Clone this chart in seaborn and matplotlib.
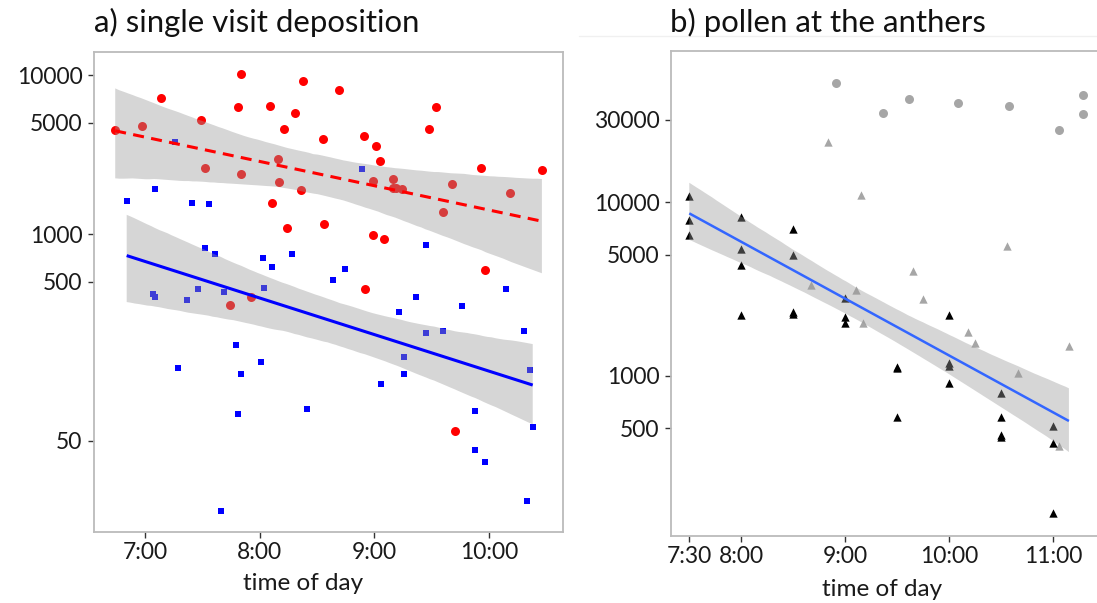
import numpy as np
import matplotlib
matplotlib.use("Agg")
import matplotlib.pyplot as plt
import seaborn as sns
from matplotlib.lines import Line2D

# ---------------- data ----------------
# a) single visit deposition (time in decimal hours, pollen count)
red_time = [6.74, 6.97, 7.14, 7.49, 7.52, 7.84, 7.81, 7.84, 8.09, 8.38, 8.31, 8.21,
            8.16, 8.17, 8.11, 8.36, 8.69, 8.55, 8.24, 8.56, 8.91, 9.01, 9.05, 8.99,
            9.16, 9.16, 9.19, 9.24, 8.99, 9.08, 9.54, 9.48, 9.68, 9.60, 9.93, 10.18,
            10.46, 9.96, 8.92, 7.74, 7.92, 9.70]
red_count = [4510, 4780, 7200, 5210, 2590, 10140, 6270, 2385, 6380, 9160, 5790, 4570,
             2950, 2125, 1570, 1890, 8050, 3950, 1090, 1150, 4130, 3570, 2890, 2155,
             2230, 1955, 1960, 1930, 980, 925, 6320, 4590, 2060, 1370, 2610, 1820,
             2530, 596, 451, 357, 403, 58]

blue_time = [7.26, 8.89, 7.09, 6.84, 7.41, 7.56, 9.45, 7.52, 7.61, 8.03, 8.28, 8.11,
             8.74, 8.64, 7.07, 7.09, 7.46, 7.37, 7.69, 8.04, 9.36, 9.21, 9.76, 10.15,
             9.45, 9.60, 10.30, 7.79, 9.26, 7.29, 8.01, 7.84, 9.26, 9.06, 10.36, 8.41,
             7.81, 9.88, 10.38, 9.88, 9.96, 10.33, 7.66]
blue_count = [3800, 2550, 1930, 1605, 1575, 1545, 853, 813, 752, 710, 752, 622,
              603, 512, 420, 402, 451, 385, 434, 459, 400, 322, 354, 453,
              239, 244, 244, 200, 168, 143, 156, 132, 132, 114, 140, 79,
              73.5, 77, 61, 44, 37, 21, 18]

# b) pollen at the anthers
black_tri_time = [7.5, 7.5, 7.5, 8.0, 8.0, 8.0, 8.0, 8.5, 8.5, 8.5, 8.5, 9.0, 9.0, 9.0,
                  9.5, 9.5, 9.5, 10.0, 10.0, 10.0, 10.0, 10.5, 10.5, 10.5, 10.5,
                  11.0, 11.0, 11.0]
black_tri_count = [10860, 7910, 6530, 8260, 5380, 4350, 2240, 7020, 4970, 2340, 2270,
                   2820, 2190, 2030, 1130, 1110, 576, 2240, 1180, 1140, 916,
                   798, 576, 459, 445, 513, 411, 161]

gray_tri_time = [8.83, 9.15, 8.67, 9.10, 9.65, 9.75, 9.17, 10.55, 10.18, 10.25, 10.66,
                 11.15, 11.05]
gray_tri_count = [22180, 11020, 3335, 3130, 4035, 2770, 2020, 5600, 1800, 1540, 1040,
                  1483, 394]

gray_circ_time = [8.91, 9.36, 9.61, 10.08, 10.57, 11.05, 11.29, 11.29]
gray_circ_count = [48750, 32700, 39450, 37250, 36060, 26000, 41600, 32200]

left_yticks = [50, 500, 1000, 5000, 10000]
right_yticks = [500, 1000, 5000, 10000, 30000]
left_xticks = [7, 8, 9, 10]
left_xlabels = ["7:00", "8:00", "9:00", "10:00"]
right_xticks = [7.5, 8, 9, 10, 11]
right_xlabels = ["7:30", "8:00", "9:00", "10:00", "11:00"]

# ---------------- style ----------------
sns.set_style("white")
plt.rcParams["font.family"] = ["Lato", "DejaVu Sans"]

fig = plt.figure(figsize=(10.97, 6.03), dpi=100)
W, H = 1097, 603
axL = fig.add_axes([94 / W, 1 - 532 / H, (563 - 94) / W, (532 - 52) / H])
axR = fig.add_axes([671 / W, 1 - 536 / H, (1097 - 671) / W, (536 - 51) / H])


def fit(ax, x, y, color, lw, dashes=None):
    n0 = len(ax.collections)
    kws = dict(lw=lw, zorder=4, solid_capstyle="butt")
    if dashes is not None:
        kws["dashes"] = dashes
    sns.regplot(x=np.asarray(x, float), y=np.log10(np.asarray(y, float)), ax=ax,
                scatter=False, ci=95, n_boot=2000, seed=7, color=color,
                line_kws=kws)
    for c in ax.collections[n0:]:
        c.set_facecolor("#999999")
        c.set_alpha(0.4)
        c.set_edgecolor("none")
        c.set_zorder(3)


def pts(ax, x, y, color, marker, s):
    sns.scatterplot(x=np.asarray(x, float), y=np.log10(np.asarray(y, float)), ax=ax,
                    color=color, marker=marker, s=s, linewidth=0, zorder=2,
                    legend=False)


# left panel
pts(axL, red_time, red_count, "#FF0000", "o", 42)
pts(axL, blue_time, blue_count, "#0000FF", "s", 20)
fit(axL, red_time, red_count, "#FF0000", 2.2, dashes=(3.6, 2.4))
fit(axL, blue_time, blue_count, "#0000FF", 2.2)

# right panel
pts(axR, gray_circ_time, gray_circ_count, "#A6A6A6", "o", 42)
pts(axR, gray_tri_time, gray_tri_count, "#A6A6A6", "^", 36)
pts(axR, black_tri_time, black_tri_count, "#000000", "^", 36)
fit(axR, black_tri_time + gray_tri_time, black_tri_count + gray_tri_count,
    "#3366FF", 1.8)

# axes formatting
axL.set_xlim(6.555, 10.644)
axL.set_ylim(1.126, 4.145)
axL.set_xticks(left_xticks)
axL.set_xticklabels(left_xlabels)
axL.set_yticks(np.log10(left_yticks))
axL.set_yticklabels([str(v) for v in left_yticks])

axR.set_xlim(7.324, 11.42)
axR.set_ylim(2.077, 4.873)
axR.set_xticks(right_xticks)
axR.set_xticklabels(right_xlabels)
axR.set_yticks(np.log10(right_yticks))
axR.set_yticklabels([str(v) for v in right_yticks])

for ax in (axL, axR):
    ax.set_facecolor("white")
    for sp in ax.spines.values():
        sp.set_color("#BBBBBB")
        sp.set_linewidth(1.3)
    ax.tick_params(axis="both", which="both", direction="out", length=4.2, width=1,
                   color="#333333", labelsize=16.5, labelcolor="#1a1a1a", pad=3,
                   bottom=True, left=True)
    ax.tick_params(axis="y", pad=4)
    ax.set_xlabel("time of day", fontsize=17.5, color="#1a1a1a")
    ax.set_ylabel("")
    ax.grid(False)

axR.spines["right"].set_visible(False)
axL.xaxis.set_label_coords((303 - 94) / (563 - 94), -0.086)
axR.xaxis.set_label_coords((882 - 671) / (1097 - 671), -0.088)

fig.text(94 / W, 1 - 32 / H, "a) single visit deposition", fontsize=22.4,
         color="#111111", ha="left", va="baseline")
fig.text(670 / W, 1 - 32 / H, "b) pollen at the anthers", fontsize=22.4,
         color="#111111", ha="left", va="baseline")
fig.add_artist(Line2D([579 / W, 1.0], [1 - 36 / H, 1 - 36 / H], color="#F0F0F0",
                      lw=1, transform=fig.transFigure, zorder=0))

fig.savefig("out.png", dpi=100)
